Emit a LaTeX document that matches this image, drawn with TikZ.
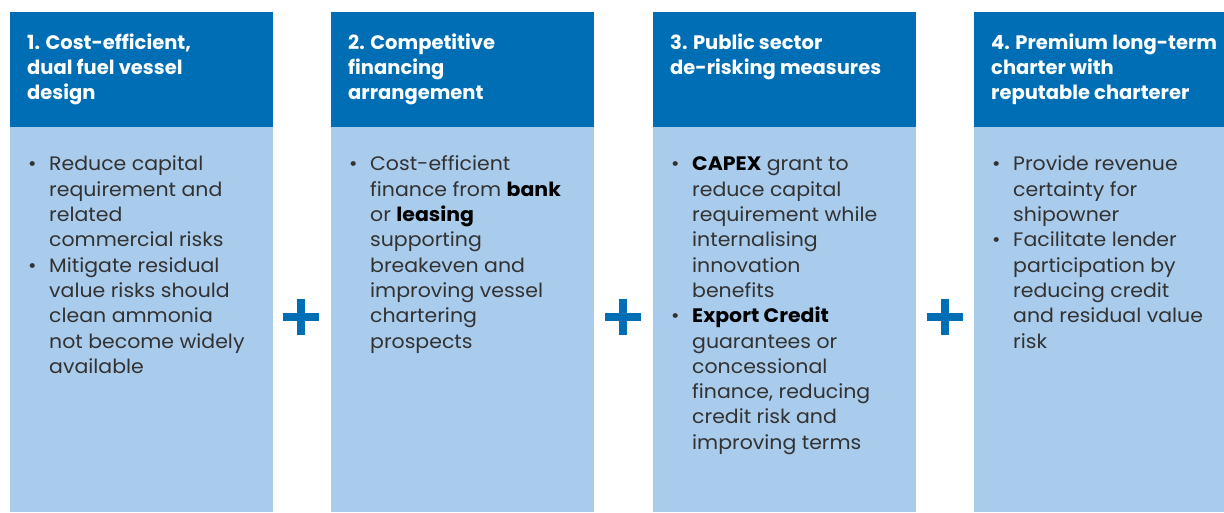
\documentclass[tikz,border=0pt]{standalone}
\usepackage{fontspec}
\setmainfont{Poppins}[FakeStretch=1.05]
\newfontfamily\headfont{Poppins}
\usetikzlibrary{positioning}

\definecolor{headblue}{RGB}{0,110,180}
\definecolor{bodyblue}{RGB}{169,203,236}
\definecolor{bodygrey}{RGB}{50,50,50}

% one bullet line and its follow-up lines
\newcommand{\bl}{\textbullet}

\begin{document}
\begin{tikzpicture}[x=1pt, y=-1pt]
    \tikzstyle{column head} = [rectangle, fill=headblue, inner sep=0pt, minimum width=263pt, minimum height=115pt, anchor=north west]
    \tikzstyle{column body} = [rectangle, fill=bodyblue, inner sep=0pt, minimum width=263pt, minimum height=385pt, anchor=north west]
    \tikzstyle{head text} = [anchor=north west, inner sep=0pt, text=white, font=\headfont\fontsize{19.5}{25}\selectfont\bfseries]
    \tikzstyle{body text} = [anchor=north west, inner sep=0pt, text=bodygrey, font=\fontsize{19.5}{25.3}\selectfont]
    \tikzstyle{plus sign} = [minimum size=36pt, inner sep=0pt]
    \tikzstyle{plus bar} = [draw=headblue, line width=8.5pt]
\useasboundingbox (0,0) rectangle (1224,512);
% the four columns
\node[column head] (h1) at (10, 12) {};
\node[column head] (h2) at (331, 12) {};
\node[column head] (h3) at (653, 12) {};
\node[column head] (h4) at (974, 12) {};
\node[column body] (b1) at (10, 127) {};
\node[column body] (b2) at (331, 127) {};
\node[column body] (b3) at (653, 127) {};
\node[column body] (b4) at (974, 127) {};
% titles
\node[head text] (t1) at (27, 32) {\begin{tabular}{@{}l@{}}1. Cost-efficient,\\dual fuel vessel\\design\end{tabular}};
\node[head text] (t2) at (348, 32) {\begin{tabular}{@{}l@{}}2. Competitive\\financing\\arrangement\end{tabular}};
\node[head text] (t3) at (670, 32) {\begin{tabular}{@{}l@{}}3. Public sector\\de-risking measures\end{tabular}};
\node[head text] (t4) at (991, 32) {\begin{tabular}{@{}l@{}}4. Premium long-term\\charter with\\reputable charterer\end{tabular}};
% bullet lists
\node[body text] (l1) at (28, 153) {\begin{tabular}{@{}p{21pt}@{}l@{}}
\bl & Reduce capital\\ & requirement and\\ & related\\ & commercial risks\\
\bl & Mitigate residual\\ & value risks should\\ & clean ammonia\\ & not become widely\\ & available
\end{tabular}};
\node[body text] (l2) at (349, 153) {\begin{tabular}{@{}p{21pt}@{}l@{}}
\bl & Cost-efficient\\ & finance from \textbf{\color{black}bank}\\ & or \textbf{\color{black}leasing}\\ & supporting\\ & breakeven and\\ & improving vessel\\ & chartering\\ & prospects
\end{tabular}};
\node[body text] (l3) at (671, 153) {\begin{tabular}{@{}p{21pt}@{}l@{}}
\bl & \textbf{\color{black}CAPEX} grant to\\ & reduce capital\\ & requirement while\\ & internalising\\ & innovation\\ & benefits\\
\bl & \textbf{\color{black}Export Credit}\\ & guarantees or\\ & concessional\\ & finance, reducing\\ & credit risk and\\ & improving terms
\end{tabular}};
\node[body text] (l4) at (992, 153) {\begin{tabular}{@{}p{21pt}@{}l@{}}
\bl & Provide revenue\\ & certainty for\\ & shipowner\\
\bl & Facilitate lender\\ & participation by\\ & reducing credit\\ & and residual value\\ & risk
\end{tabular}};
% plus signs between the columns
\node[plus sign] (p1) at (301, 317) {};
\node[plus sign] (p2) at (623, 317) {};
\node[plus sign] (p3) at (945, 317) {};
\foreach \p in {p1, p2, p3} {
    \draw[plus bar] (\p.west) -- (\p.east);
    \draw[plus bar] (\p.north) -- (\p.south);
}
\end{tikzpicture}
\end{document}
